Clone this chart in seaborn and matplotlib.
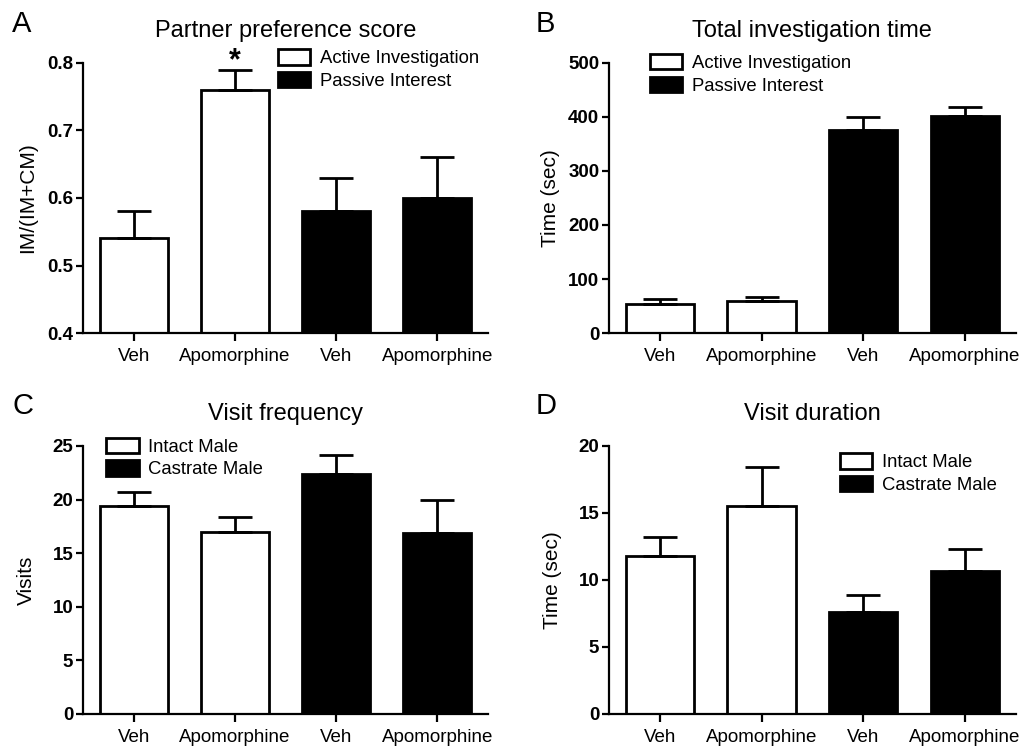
import numpy as np
import pandas as pd
import seaborn as sns
import matplotlib.pyplot as plt
from matplotlib.patches import Patch

sns.set_style('ticks')
plt.rcParams['font.family'] = ['Liberation Sans', 'DejaVu Sans']
for k in ['text.color', 'axes.labelcolor', 'xtick.color', 'ytick.color', 'axes.edgecolor']:
    plt.rcParams[k] = 'black'

# Data
treatments = ['Veh', 'Apomorphine', 'Veh', 'Apomorphine']

pref_groups = ['Active Investigation', 'Active Investigation', 'Passive Interest', 'Passive Interest']
pref_score = [0.54, 0.76, 0.58, 0.60]
pref_sem = [0.04, 0.03, 0.05, 0.06]

inv_time = [54, 58.5, 376, 401]
inv_sem = [9, 8, 24, 18]

male_groups = ['Intact Male', 'Intact Male', 'Castrate Male', 'Castrate Male']
visit_freq = [19.4, 17.0, 22.4, 16.9]
visit_freq_sem = [1.3, 1.35, 1.8, 3.1]

visit_dur = [11.8, 15.5, 7.6, 10.7]
visit_dur_sem = [1.4, 2.95, 1.25, 1.6]

fig = plt.figure(figsize=(10.22, 7.48), dpi=100)


def panel(rect, values, sems, groups, title, ylabel, ylim, yticks, leg_pos, labelpad):
    ax = fig.add_axes(rect)
    df = pd.DataFrame({'pos': [f'{i}' for i in range(4)], 'value': values, 'group': groups})
    names = list(dict.fromkeys(groups))
    pal = {names[0]: 'white', names[1]: 'black'}
    sns.barplot(data=df, x='pos', y='value', hue='group', palette=pal, dodge=False,
                edgecolor='black', linewidth=2, width=0.67, errorbar=None,
                legend=False, ax=ax)
    ax.errorbar(np.arange(4), values, yerr=[np.zeros(4), sems], fmt='none',
                ecolor='black', elinewidth=2, capsize=12, capthick=2, zorder=1)
    ax.set_xlim(-0.5, 3.5)
    ax.set_ylim(*ylim)
    ax.set_yticks(yticks)
    ax.set_xticks(range(4))
    ax.set_xticklabels(treatments, fontsize=13.5)
    for t in ax.get_yticklabels():
        t.set_fontweight('bold')
        t.set_fontsize(13.5)
    ax.tick_params(axis='y', length=5, width=1.6, pad=2)
    ax.tick_params(axis='x', length=6, width=1.6, pad=5)
    for s in ['left', 'bottom']:
        ax.spines[s].set_linewidth(1.6)
    sns.despine(ax=ax)
    ax.set_xlabel('')
    ax.set_ylabel(ylabel, fontsize=15, labelpad=labelpad)
    ax.set_title(title, fontsize=17, pad=19)
    handles = [Patch(facecolor='white', edgecolor='black', linewidth=2),
               Patch(facecolor='black', edgecolor='black', linewidth=2)]
    fig.legend(handles, names, loc='upper left', bbox_to_anchor=leg_pos, frameon=False,
               fontsize=13.3, handlelength=1.75, handleheight=0.9, labelspacing=0.25,
               handletextpad=0.5, borderpad=0, borderaxespad=0)
    return ax


axA = panel([0.0812, 0.5548, 0.3963, 0.361], pref_score, pref_sem, pref_groups,
            'Partner preference score', 'IM/(IM+CM)', (0.4, 0.8),
            [0.4, 0.5, 0.6, 0.7, 0.8], (0.272, 0.934), 7)
axA.text(1, 0.803, '*', ha='center', va='center', fontsize=22, fontweight='bold', clip_on=False)

panel([0.5959, 0.5548, 0.398, 0.361], inv_time, inv_sem, pref_groups,
      'Total investigation time', 'Time (sec)', (0, 500),
      [0, 100, 200, 300, 400, 500], (0.636, 0.928), 6)

panel([0.0812, 0.0455, 0.3963, 0.3583], visit_freq, visit_freq_sem, male_groups,
      'Visit frequency', 'Visits', (0, 25),
      [0, 5, 10, 15, 20, 25], (0.104, 0.415), 12)

panel([0.5959, 0.0455, 0.398, 0.3583], visit_dur, visit_dur_sem, male_groups,
      'Visit duration', 'Time (sec)', (0, 20),
      [0, 5, 10, 15, 20], (0.822, 0.394), 12)

for letter, x, y in [('A', 12, 32), ('B', 536, 32), ('C', 12, 414), ('D', 536, 414)]:
    fig.text(x / 1022, 1 - y / 748, letter, fontsize=21, va='baseline', ha='left')

fig.savefig('out.png', dpi=100)
